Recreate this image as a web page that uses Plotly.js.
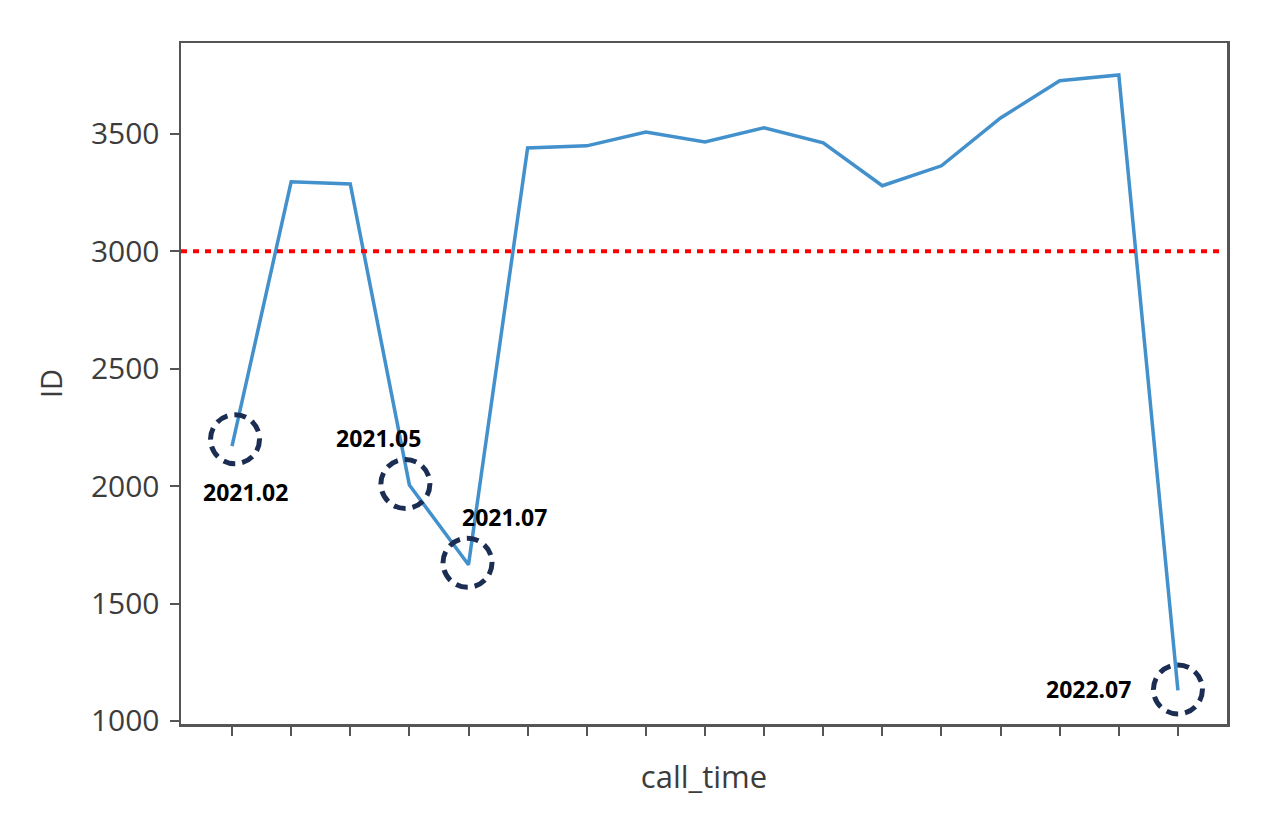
<!DOCTYPE html>
<html>
<head>
<meta charset="utf-8">
<script src="https://cdn.plot.ly/plotly-3.0.1.min.js"></script>
<style>html,body{margin:0;padding:0;background:#fff;}#chart{width:1286px;height:831px;}</style>
</head>
<body>
<div id="chart"></div>
<script>
const categories = ['2021.02','2021.03','2021.04','2021.05','2021.07','2021.08','2021.09','2021.10','2021.11','2021.12','2022.01','2022.02','2022.03','2022.04','2022.05','2022.06','2022.07'];
const idCounts = [2170, 3296, 3287, 2005, 1665, 3440, 3449, 3508, 3466, 3526, 3462, 3279, 3364, 3568, 3726, 3751, 1130];
const threshold = 3000;
const highlighted = ['2021.02','2021.05','2021.07','2022.07'];
const yTicks = [1000, 1500, 2000, 2500, 3000, 3500];

const circleOffsets = {'2021.02':[3,7],'2021.05':[-4,1],'2021.07':[-1,2],'2022.07':[0,1]};
const labelShifts = {'2021.02':[13,-46],'2021.05':[-31,47],'2021.07':[36,48],'2022.07':[-89,1]};

const shapes = [{
  type:'line', xref:'paper', yref:'y', x0:0, x1:0.995, y0:threshold, y1:threshold,
  line:{color:'#ff0000', width:4, dash:'6px,6px'}
}];
const annotations = [];
highlighted.forEach(c => {
  const i = categories.indexOf(c);
  const [dx, dy] = circleOffsets[c];
  shapes.push({
    type:'circle', xref:'x', yref:'y', xsizemode:'pixel', ysizemode:'pixel',
    xanchor:i, yanchor:idCounts[i],
    x0:dx-24.5, x1:dx+24.5, y0:dy-24.5, y1:dy+24.5,
    line:{color:'#1b2d52', width:5, dash:'12px,7px'}
  });
  const [sx, sy] = labelShifts[c];
  annotations.push({
    x:i, y:idCounts[i], xref:'x', yref:'y', text:'<b>'+c+'</b>', showarrow:false,
    xshift:sx, yshift:sy, font:{family:'Noto Sans', size:23, color:'#000'}
  });
});

const trace = {
  x: categories.map((c,i)=>i), y: idCounts, type:'scatter', mode:'lines',
  line:{color:'#4290cc', width:3.5}, hoverinfo:'skip'
};

const layout = {
  width:1286, height:831,
  margin:{l:181, r:59, t:43, b:107},
  paper_bgcolor:'#fff', plot_bgcolor:'#fff',
  showlegend:false,
  font:{family:'Open Sans', color:'#3c3c3c'},
  xaxis:{
    range:[-0.863, 16.83], tickvals:categories.map((c,i)=>i), ticktext:categories,
    showticklabels:false, ticks:'outside', ticklen:9, tickwidth:2, tickcolor:'#555',
    showline:true, mirror:true, linecolor:'#555', linewidth:2.5, showgrid:false, zeroline:false,
    title:{text:'call_time', font:{size:31, color:'#3c3c3c'}, standoff:32}
  },
  yaxis:{
    range:[987, 3887], tickvals:yTicks, ticks:'outside', ticklen:9, tickwidth:2, tickcolor:'#555',
    showline:true, mirror:true, linecolor:'#555', linewidth:2.5, showgrid:false, zeroline:false,
    tickfont:{size:30, color:'#3c3c3c'}, ticklabelstandoff:4,
    title:{text:'ID', font:{size:29, color:'#3c3c3c'}, standoff:20}
  },
  shapes: shapes,
  annotations: annotations
};
Plotly.newPlot('chart', [trace], layout, {displayModeBar:false, staticPlot:true});
</script>
</body>
</html>
